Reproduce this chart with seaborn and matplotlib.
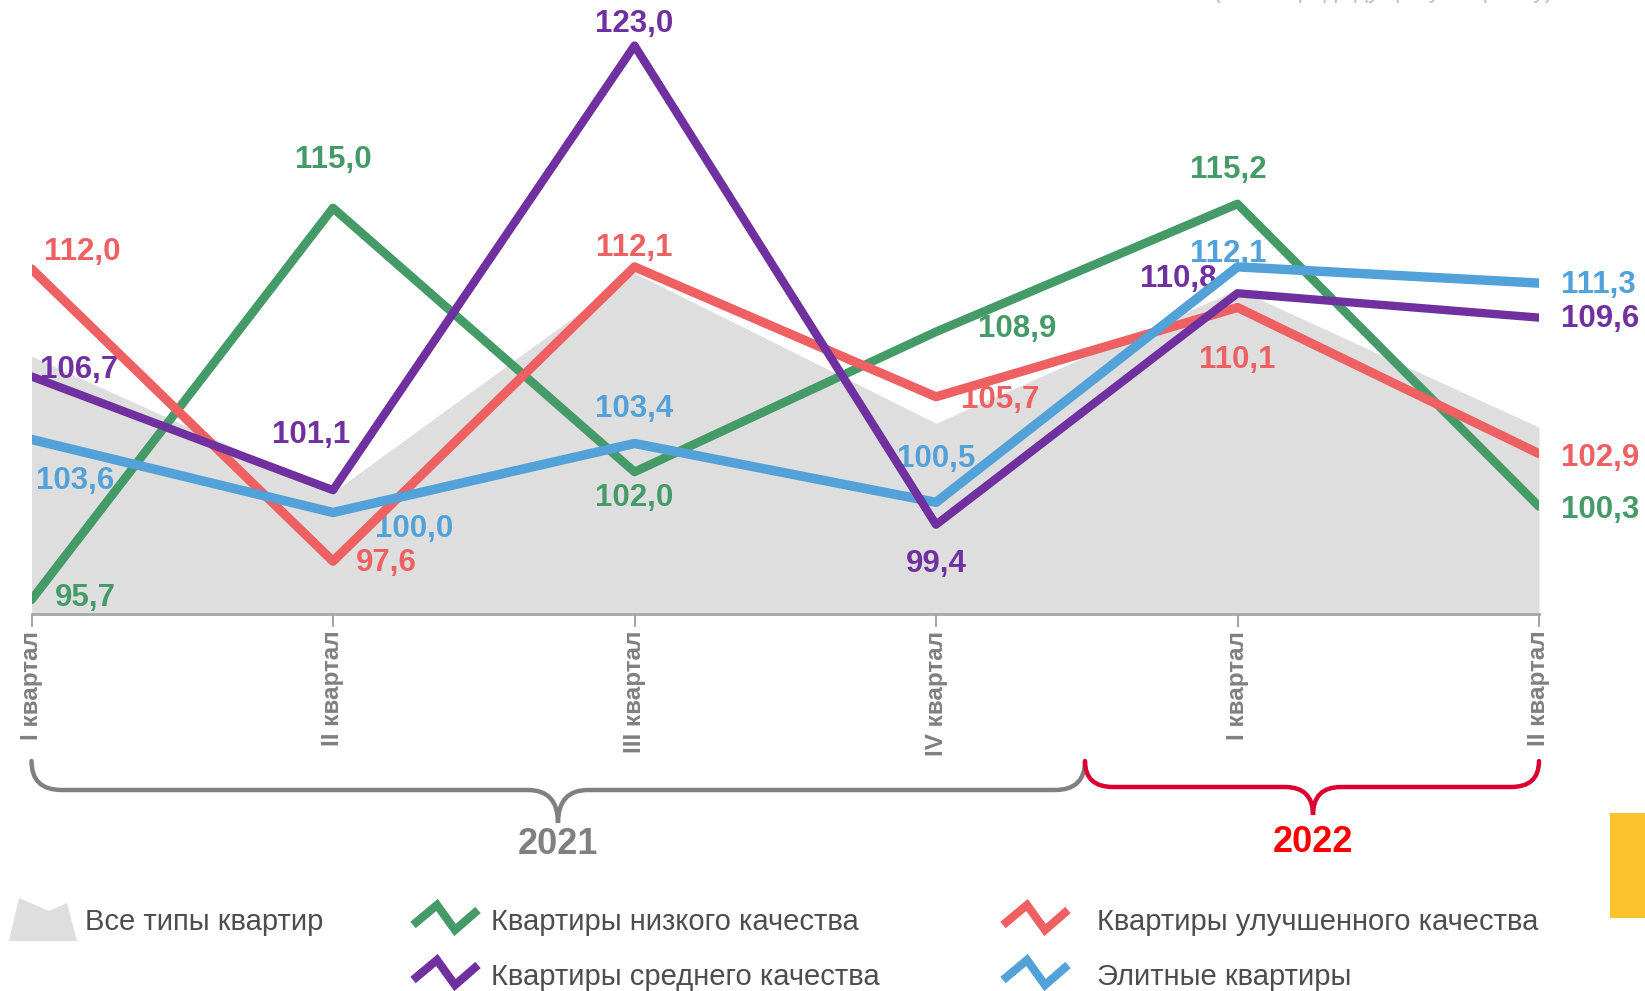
import numpy as np
import pandas as pd
import matplotlib
matplotlib.use("Agg")
import matplotlib.pyplot as plt
import seaborn as sns
from matplotlib.path import Path
from matplotlib.patches import PathPatch, Polygon, Rectangle

# ---------------- data ----------------
quarters = ["I квартал", "II квартал", "III квартал", "IV квартал", "I квартал", "II квартал"]
years = ["2021", "2022"]
all_types = [107.7, 101.0, 111.8, 104.4, 111.0, 104.2]
low_q = [95.7, 115.0, 102.0, 108.9, 115.2, 100.3]
mid_q = [106.7, 101.1, 123.0, 99.4, 110.8, 109.6]
improved_q = [112.0, 97.6, 112.1, 105.7, 110.1, 102.9]
elite_q = [103.6, 100.0, 103.4, 100.5, 112.1, 111.3]
names = ["Все типы квартир", "Квартиры низкого качества", "Квартиры улучшенного качества",
         "Квартиры среднего качества", "Элитные квартиры"]

# ---------------- style ----------------
sns.set_theme(style="white")
plt.rcParams["font.family"] = ["Liberation Sans", "DejaVu Sans"]

W, H = 1645, 991
fig = plt.figure(figsize=(W / 100, H / 100), dpi=100)

# overlay axes in pixel coords (for braces, legend)
ov = fig.add_axes([0, 0, 1, 1], zorder=0)
ov.set_xlim(0, W)
ov.set_ylim(H, 0)
ov.axis("off")

ax_left, ax_right = 31.5, 1539
ax_top, ax_bot = 5, 614
ax = fig.add_axes([ax_left / W, (H - ax_bot) / H, (ax_right - ax_left) / W, (ax_bot - ax_top) / H], zorder=2)
ax.set_facecolor("none")

c_gray = "#DEDEDE"
c_green = "#459B68"
c_red = "#EE6062"
c_purple = "#7030A0"
c_blue = "#52A1D9"

x = np.arange(len(quarters))
ax.fill_between(x, 95, all_types, color=c_gray, lw=0, zorder=1)

series = [
    (low_q, c_green, 6.3, [(23, -2, "left"), (0, -48, "center"), (0, 26, "center"), (42, -3, "left"), (-9, -34, "center"), (22, 4, "left")]),
    (improved_q, c_red, 6.6, [(13, -17, "left"), (23, 2, "left"), (0, -19, "center"), (25, 3, "left"), (0, 53, "center"), (22, 4, "left")]),
    (elite_q, c_blue, 6.8, [(4, 42, "left"), (42, 17, "left"), (0, -34, "center"), (0, -43, "center"), (-9, -13, "center"), (22, 2, "left")]),
    (mid_q, c_purple, 6.0, [(8, -6, "left"), (-22, -55, "center"), (0, -22, "center"), (0, 39, "center"), (-21, -14, "right"), (22, 1, "left")]),
]

for i, (vals, col, lw, offs) in enumerate(series):
    df = pd.DataFrame({"idx": x, "value": vals})
    sns.lineplot(data=df, x="idx", y="value", color=col, linewidth=lw, ax=ax, zorder=3 + i,
                 sort=False, legend=False)
    for xi, v, (dx, dy, ha) in zip(x, vals, offs):
        ax.annotate(f"{v:.1f}".replace(".", ","), (xi, v), xytext=(dx, -dy), textcoords="offset pixels",
                    ha=ha, va="center", fontsize=22.5, fontweight="bold", color=col, zorder=2,
                    annotation_clip=False)

ax.set_xlim(0, len(quarters) - 1)
ax.set_ylim(95, 125)
ax.set_xticks(x)
ax.set_xticklabels(quarters, rotation=90, fontsize=17.5, fontweight="bold", color="#808080", va="top", ha="center")
ax.set_yticks([])
ax.set_xlabel("")
ax.set_ylabel("")
for s in ["top", "right", "left"]:
    ax.spines[s].set_visible(False)
ax.spines["bottom"].set_color("#A6A6A6")
ax.spines["bottom"].set_linewidth(2)
ax.tick_params(axis="x", direction="out", length=9, width=1.5, color="#A6A6A6", pad=3, bottom=True)


# ---------------- braces ----------------
def brace(x0, x1, xm, ytop, yline, ytip, r, color):
    verts = [(x0, ytop), (x0, yline), (x0 + r, yline),
             (xm - r, yline), (xm, yline), (xm, ytip),
             (xm, yline), (xm + r, yline),
             (x1 - r, yline), (x1, yline), (x1, ytop)]
    codes = [Path.MOVETO, Path.CURVE3, Path.CURVE3,
             Path.LINETO, Path.CURVE3, Path.CURVE3,
             Path.CURVE3, Path.CURVE3,
             Path.LINETO, Path.CURVE3, Path.CURVE3]
    ov.add_patch(PathPatch(Path(verts, codes), fill=False, edgecolor=color, lw=3.2, capstyle="round"))


brace(31.5, 1085, 558, 761, 790, 823, 30, "#808080")
brace(1085, 1539, 1313, 761, 787, 815, 28, "#DC0030")
ov.text(558, 845, years[0], ha="center", va="center", fontsize=26, fontweight="bold", color="#808080")
ov.text(1313, 843, years[1], ha="center", va="center", fontsize=26, fontweight="bold", color="#FF0000")

# ---------------- legend ----------------
ov.add_patch(Polygon([(9, 941), (19, 898), (49, 911), (67, 903), (77, 941)], closed=True, color=c_gray, lw=0))


def zig(x0, y0, col):
    pts = np.array([(0, 0), (24, -20), (42, 5), (65, -15)]) + np.array([x0, y0])
    ov.plot(pts[:, 0], pts[:, 1], color=col, lw=6, solid_capstyle="butt", solid_joinstyle="miter")


zig(413, 925, c_green)
zig(413, 980, c_purple)
zig(1003, 925, c_red)
zig(1003, 980, c_blue)

tc = "#4D4D4D"
ov.text(85, 922, names[0], ha="left", va="center", fontsize=21, color=tc)
ov.text(491, 922, names[1], ha="left", va="center", fontsize=21, color=tc)
ov.text(1097, 922, names[2], ha="left", va="center", fontsize=21, color=tc)
ov.text(491, 977, names[3], ha="left", va="center", fontsize=21, color=tc)
ov.text(1097, 977, names[4], ha="left", va="center", fontsize=21, color=tc)

# yellow marker at right edge
ov.add_patch(Rectangle((1610, 813), 40, 105, color="#FEC22F", lw=0))

# cut-off subtitle at the top (only the descenders show, as in the reference)
ov.text(1553, -2, "(в % к предыдущему кварталу)", ha="right", va="baseline", fontsize=17, color="#BFBFBF")

fig.savefig("out.png", dpi=100)
